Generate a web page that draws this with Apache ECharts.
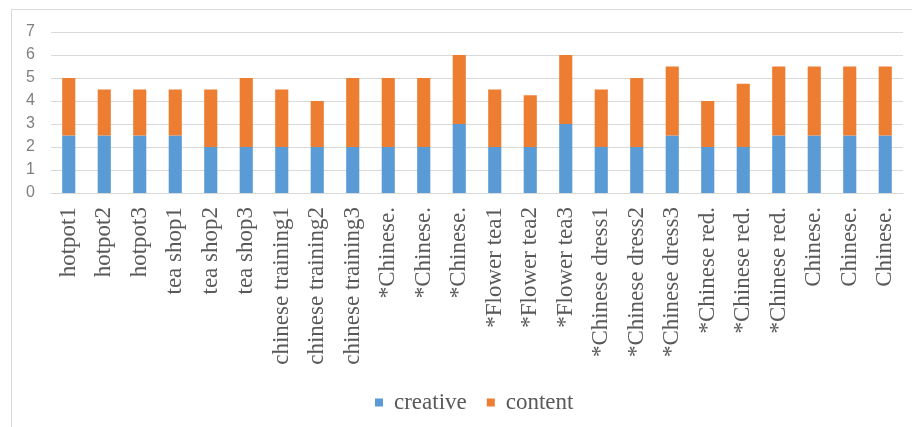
<!DOCTYPE html>
<html>
<head>
<meta charset="utf-8">
<script src="https://cdn.jsdelivr.net/npm/echarts@6/dist/echarts.min.js"></script>
<style>
html,body{margin:0;padding:0;background:#fff;}
#c{width:912px;height:427px;}
</style>
</head>
<body>
<div id="c"></div>
<script>
var categories = ["hotpot1","hotpot2","hotpot3","tea shop1","tea shop2","tea shop3","chinese training1","chinese training2","chinese training3","*Chinese.","*Chinese.","*Chinese.","*Flower tea1","*Flower tea2","*Flower tea3","*Chinese dress1","*Chinese dress2","*Chinese dress3","*Chinese red.","*Chinese red.","*Chinese red.","Chinese.","Chinese.","Chinese."];
var creative = [2.5,2.5,2.5,2.5,2,2,2,2,2,2,2,3,2,2,3,2,2,2.5,2,2,2.5,2.5,2.5,2.5];
var content  = [2.5,2,2,2,2.5,3,2.5,2,3,3,3,3,2.5,2.25,3,2.5,3,3,2,2.75,3,3,3,3];
var yTicks = [0,1,2,3,4,5,6,7];

var chart = echarts.init(document.getElementById('c'));
chart.setOption({
  animation:false,
  backgroundColor:'#fff',
  grid:{left:51,right:9,top:32,bottom:234,containLabel:false},
  legend:{
    data:['creative','content'],
    left:370, top:386,
    icon:'rect', itemWidth:8, itemHeight:8, itemGap:20,
    textStyle:{fontFamily:'Liberation Serif',fontSize:23,color:'#595959',padding:[0,0,0,6]}
  },
  xAxis:{
    type:'category', data:categories,
    axisLine:{lineStyle:{color:'#d9d9d9'}},
    axisTick:{show:false},
    axisLabel:{rotate:90,interval:0,margin:14,fontFamily:'Liberation Serif',fontSize:23,color:'#595959'}
  },
  yAxis:{
    type:'value', min:0, max:yTicks[yTicks.length-1], interval:1,
    axisLine:{show:false}, axisTick:{show:false},
    axisLabel:{margin:16,fontFamily:'Liberation Sans',fontSize:16,color:'#7f7f7f'},
    splitLine:{lineStyle:{color:'#d9d9d9'}}
  },
  series:[
    {name:'creative',type:'bar',stack:'s',data:creative,barWidth:'37%',itemStyle:{color:'#5b9bd5'}},
    {name:'content',type:'bar',stack:'s',data:content,barWidth:'37%',itemStyle:{color:'#ed7d31'}}
  ],
  graphic:[
    {type:'line',shape:{x1:11.5,y1:9,x2:11.5,y2:427},style:{stroke:'#d9d9d9',lineWidth:1}},
    {type:'line',shape:{x1:11,y1:9.5,x2:912,y2:9.5},style:{stroke:'#d9d9d9',lineWidth:1}}
  ]
});
</script>
</body>
</html>
